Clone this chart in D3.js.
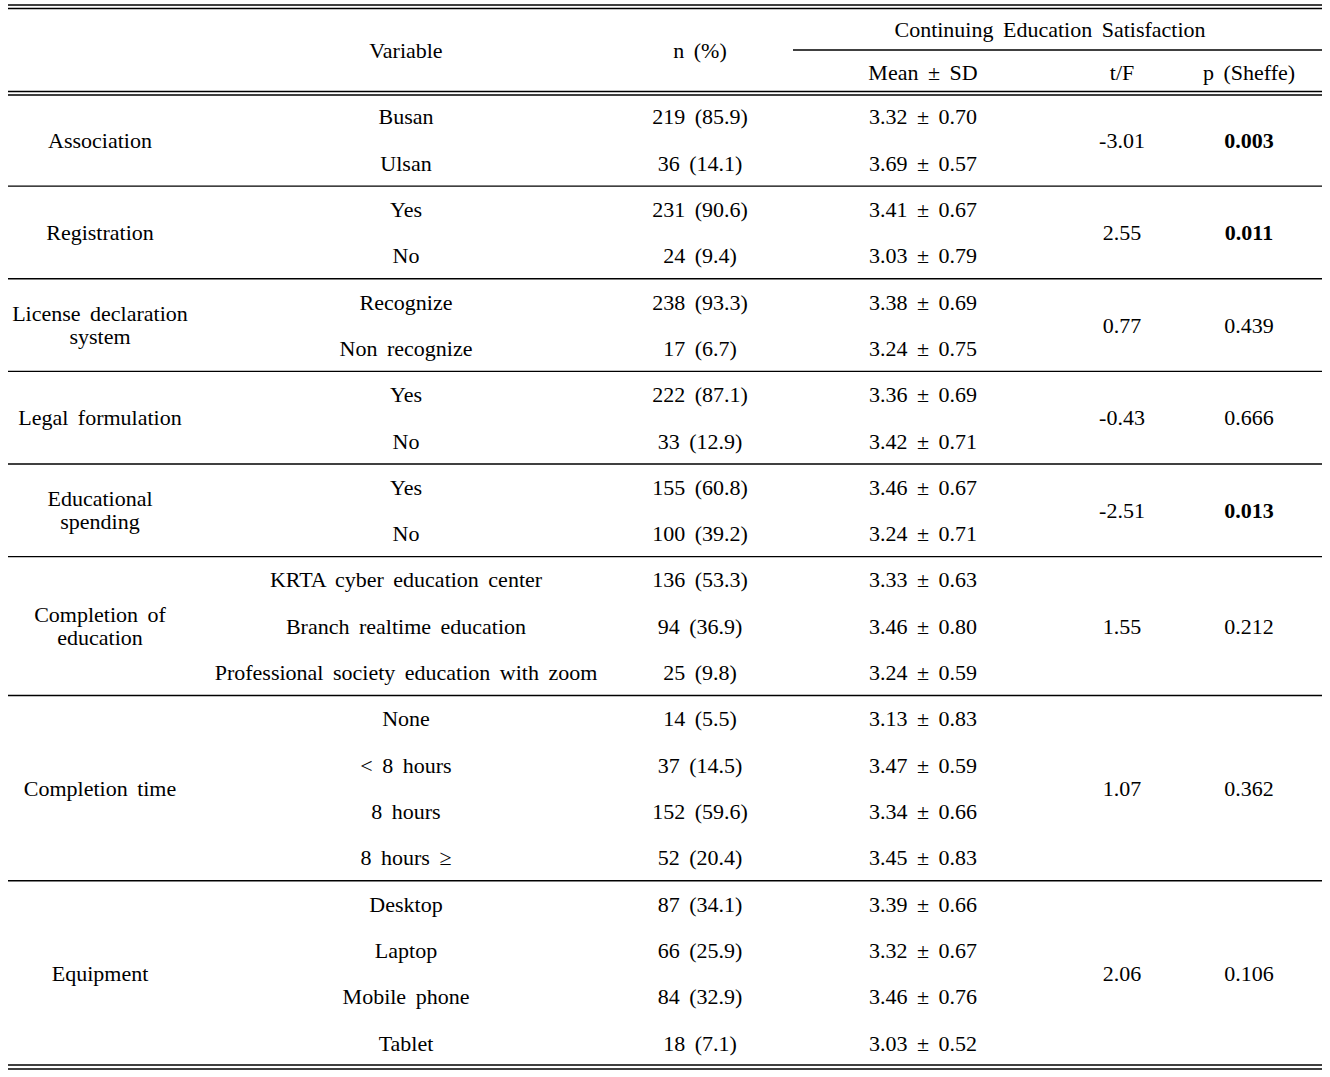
<!DOCTYPE html>
<html><head><meta charset="utf-8">
<script src="https://cdn.jsdelivr.net/npm/d3@7"></script>
<style>
html,body{margin:0;padding:0;background:#fff;}
text{font-family:"Liberation Serif","Times New Roman",serif;font-size:22px;fill:#000;word-spacing:4px;}
</style></head><body>
<svg id="c" width="1330" height="1077"></svg>
<script>
const groups = [
  {name:["Association"], t:"-3.01", p:"0.003", bold:true},
  {name:["Registration"], t:"2.55", p:"0.011", bold:true},
  {name:["License declaration","system"], t:"0.77", p:"0.439", bold:false},
  {name:["Legal formulation"], t:"-0.43", p:"0.666", bold:false},
  {name:["Educational","spending"], t:"-2.51", p:"0.013", bold:true},
  {name:["Completion of","education"], t:"1.55", p:"0.212", bold:false},
  {name:["Completion time"], t:"1.07", p:"0.362", bold:false},
  {name:["Equipment"], t:"2.06", p:"0.106", bold:false}
];
const groupIndex = [0,0,1,1,2,2,3,3,4,4,5,5,5,6,6,6,6,7,7,7,7];
const categories = ["Busan","Ulsan","Yes","No","Recognize","Non recognize","Yes","No","Yes","No",
  "KRTA cyber education center","Branch realtime education","Professional society education with zoom",
  "None","< 8 hours","8 hours","8 hours ≥","Desktop","Laptop","Mobile phone","Tablet"];
const nValues = [219,36,231,24,238,17,222,33,155,100,136,94,25,14,37,152,52,87,66,84,18];
const pctValues = ["85.9","14.1","90.6","9.4","93.3","6.7","87.1","12.9","60.8","39.2","53.3","36.9","9.8","5.5","14.5","59.6","20.4","34.1","25.9","32.9","7.1"];
const meanValues = ["3.32","3.69","3.41","3.03","3.38","3.24","3.36","3.42","3.46","3.24","3.33","3.46","3.24","3.13","3.47","3.34","3.45","3.39","3.32","3.46","3.03"];
const sdValues = ["0.70","0.57","0.67","0.79","0.69","0.75","0.69","0.71","0.67","0.71","0.63","0.80","0.59","0.83","0.59","0.66","0.83","0.66","0.67","0.76","0.52"];
const headerTop = "Continuing Education Satisfaction";
const headerCols = ["Variable","n (%)","Mean ± SD","t/F","p (Sheffe)"];

const svg = d3.select("#c");
const left = 8, right = 1322;
const y = d3.scaleBand().domain(d3.range(categories.length)).range([93.5, 1066]);
const x = d3.scaleOrdinal().domain(["group","cat","n","mean","t","p"]).range([100,406,700,923,1122,1249]);

function hline(y0, x0, x1, w){
  svg.append("line").attr("x1",x0).attr("x2",x1).attr("y1",y0).attr("y2",y0)
     .attr("stroke","#000").attr("stroke-width",w);
}
hline(5,left,right,1.5); hline(8.5,left,right,1.5);
hline(50,793,right,1.3);
hline(91.5,left,right,1.5); hline(95,left,right,1.5);
hline(1065,left,right,1.5); hline(1069,left,right,1.5);

function txt(xp, yp, s, bold){
  return svg.append("text").attr("x",xp).attr("y",yp).attr("dy","0.35em")
    .attr("text-anchor","middle").attr("font-weight",bold?"bold":"normal").text(s);
}
txt(x("cat"),50,headerCols[0]);
txt(x("n"),50,headerCols[1]);
txt(1050,29,headerTop);
txt(x("mean"),72,headerCols[2]);
txt(x("t"),72,headerCols[3]);
txt(x("p"),72,headerCols[4]);

categories.forEach((c,i)=>{
  const yc = y(i)+y.bandwidth()/2;
  txt(x("cat"),yc,c);
  txt(x("n"),yc,nValues[i]+" ("+pctValues[i]+")");
  txt(x("mean"),yc,meanValues[i]+" ± "+sdValues[i]);
});

groups.forEach((g,gi)=>{
  const rows = groupIndex.map((v,i)=>v===gi?i:-1).filter(i=>i>=0);
  const top = y(rows[0]), bot = y(rows[rows.length-1])+y.bandwidth();
  const mid = (top+bot)/2;
  const lh = 23;
  g.name.forEach((ln,k)=>{
    txt(x("group"), mid + (k-(g.name.length-1)/2)*lh, ln);
  });
  txt(x("t"),mid,g.t);
  txt(x("p"),mid,g.p,g.bold);
  if(gi<groups.length-1) hline(bot,left,right,1.3);
});
</script>
</body></html>
